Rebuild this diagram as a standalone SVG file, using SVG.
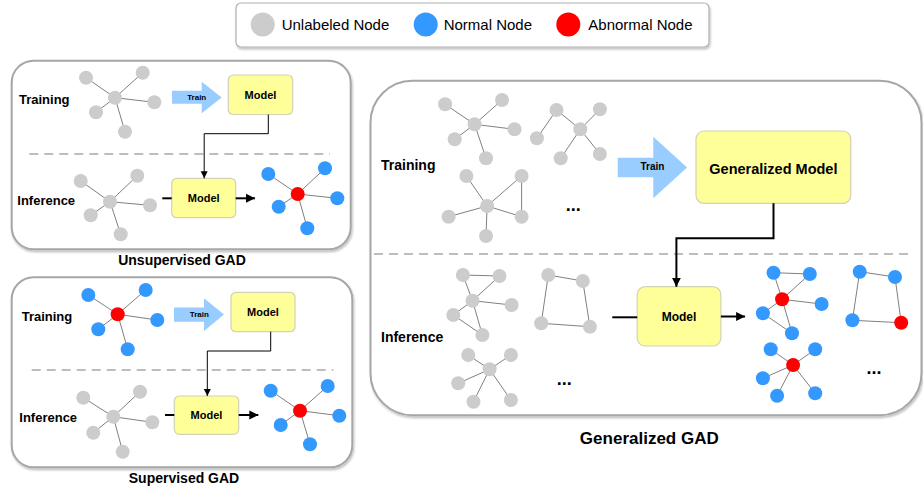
<svg xmlns="http://www.w3.org/2000/svg" width="923" height="489" viewBox="0 0 923 489">
<style>
text{font-family:"Liberation Sans",Arial,Helvetica,sans-serif;fill:#000}
.b{font-weight:bold}
.panel{fill:#fff;stroke:#a6a6a6;stroke-width:2}
.model{fill:#ffff99;stroke:#d2d2b4;stroke-width:1.2}
.g{fill:#cccccc}
.n{fill:#3399ff}
.a{fill:#ff0000}
.e{stroke:#808080;stroke-width:1;fill:none}
.dash{stroke:#a8a8a8;stroke-width:1.5;stroke-dasharray:9 6;fill:none}
.train{fill:#99ccff}
.c1{stroke:#000;stroke-width:1;fill:none}
.c2{stroke:#000;stroke-width:2;fill:none}
.dots{font-size:18px;font-weight:bold}
</style>
<defs>
<filter id="sh" x="-5%" y="-5%" width="110%" height="115%">
<feDropShadow dx="1" dy="2" stdDeviation="1.2" flood-color="#000" flood-opacity="0.25"/>
</filter>
<marker id="m1" markerUnits="userSpaceOnUse" markerWidth="8" markerHeight="8" refX="7" refY="4" orient="auto">
<path d="M0,0.5 L7,4 L0,7.5 Z" fill="#000"/>
</marker>
<marker id="m2" markerUnits="userSpaceOnUse" markerWidth="10" markerHeight="10" refX="9" refY="5" orient="auto">
<path d="M0,0.5 L9,5 L0,9.5 Z" fill="#000"/>
</marker>
</defs>

<g id="legend">
<rect x="236" y="3" width="473" height="44" rx="5" fill="#fff" stroke="#b0b0b0" stroke-width="1.2" filter="url(#sh)"/>
<circle cx="262.7" cy="24.5" r="12" class="g"/>
<text x="281.7" y="30" font-size="15" fill="#1a1a1a">Unlabeled Node</text>
<circle cx="425.7" cy="24.5" r="12" class="n"/>
<text x="443.7" y="30" font-size="15" fill="#1a1a1a">Normal Node</text>
<circle cx="568.3" cy="24.5" r="12" class="a"/>
<text x="588.3" y="30" font-size="15" fill="#1a1a1a">Abnormal Node</text>
</g>

<!-- Unsupervised panel -->
<g id="panel-unsupervised">
<rect x="11.7" y="60.7" width="339" height="188.6" rx="22" class="panel" filter="url(#sh)"/>
<line x1="29.3" y1="154" x2="330" y2="154" class="dash"/>
<text x="19" y="104.3" font-size="13" class="b">Training</text>
<text x="17.3" y="205" font-size="13" class="b">Inference</text>
</g>
<g id="u-train-graph">
<path class="e" d="M115,97.7 L86,77.7 M115,97.7 L142.7,72.7 M115,97.7 L154.3,102.3 M115,97.7 L96,112.3 M115,97.7 L125,131.7"/>
<circle cx="86" cy="77.7" r="7" class="g"/><circle cx="142.7" cy="72.7" r="7" class="g"/><circle cx="154.3" cy="102.3" r="7" class="g"/><circle cx="96" cy="112.3" r="7" class="g"/><circle cx="125" cy="131.7" r="7" class="g"/><circle cx="115" cy="97.7" r="7" class="g"/>
</g>
<g id="u-train-arrow">
<polygon class="train" points="172,90.7 201.7,90.7 201.7,81.7 221.7,97.5 201.7,113.3 201.7,103.7 172,103.7"/>
<text x="196.7" y="100.2" font-size="8" class="b" text-anchor="middle" fill="#222">Train</text>
</g>
<g id="u-model-train">
<rect x="228.3" y="75" width="64.4" height="39.5" rx="5" class="model"/>
<text x="260.5" y="98.5" font-size="11" class="b" text-anchor="middle">Model</text>
</g>
<g id="u-infer-graph">
<path class="e" d="M110,201.7 L80.7,181 M110,201.7 L137.3,175.7 M110,201.7 L150,205.3 M110,201.7 L90.7,215.3 M110,201.7 L120.7,234.3"/>
<circle cx="80.7" cy="181" r="7" class="g"/><circle cx="137.3" cy="175.7" r="7" class="g"/><circle cx="150" cy="205.3" r="7" class="g"/><circle cx="90.7" cy="215.3" r="7" class="g"/><circle cx="120.7" cy="234.3" r="7" class="g"/><circle cx="110" cy="201.7" r="7" class="g"/>
</g>
<g id="u-model-infer">
<rect x="171.7" y="178.3" width="64" height="39.4" rx="5" class="model"/>
<text x="203.7" y="202" font-size="11" class="b" text-anchor="middle">Model</text>
</g>
<g id="u-out-graph">
<path class="e" d="M297.7,194 L268.3,174 M297.7,194 L325,168.3 M297.7,194 L337.3,198.3 M297.7,194 L278.7,206.7 M297.7,194 L307.3,228.3"/>
<circle cx="268.3" cy="174" r="7" class="n"/><circle cx="325" cy="168.3" r="7" class="n"/><circle cx="337.3" cy="198.3" r="7" class="n"/><circle cx="278.7" cy="206.7" r="7" class="n"/><circle cx="307.3" cy="228.3" r="7" class="n"/><circle cx="297.7" cy="194" r="7" class="a"/>
</g>
<text x="182" y="265" font-size="14" class="b" text-anchor="middle">Unsupervised GAD</text>

<!-- Supervised panel -->
<g id="panel-supervised">
<rect x="11.7" y="277.3" width="340.6" height="190" rx="22" class="panel" filter="url(#sh)"/>
<line x1="31.7" y1="370" x2="333.3" y2="370" class="dash"/>
<text x="21.7" y="321" font-size="13" class="b">Training</text>
<text x="19.3" y="421.7" font-size="13" class="b">Inference</text>
</g>
<g id="s-train-graph">
<path class="e" d="M117.7,314.3 L88.3,295 M117.7,314.3 L145.7,290 M117.7,314.3 L157.3,320 M117.7,314.3 L98.3,329.3 M117.7,314.3 L127.7,349.3"/>
<circle cx="88.3" cy="295" r="7" class="n"/><circle cx="145.7" cy="290" r="7" class="n"/><circle cx="157.3" cy="320" r="7" class="n"/><circle cx="98.3" cy="329.3" r="7" class="n"/><circle cx="127.7" cy="349.3" r="7" class="n"/><circle cx="117.7" cy="314.3" r="7" class="a"/>
</g>
<g id="s-train-arrow">
<polygon class="train" points="174,307.5 204,307.5 204,298.3 224,314.6 204,331 204,321.7 174,321.7"/>
<text x="199.3" y="317.3" font-size="8" class="b" text-anchor="middle" fill="#222">Train</text>
</g>
<g id="s-model-train">
<rect x="231" y="292.3" width="64" height="39.4" rx="5" class="model"/>
<text x="263" y="315.8" font-size="11" class="b" text-anchor="middle">Model</text>
</g>
<g id="s-infer-graph">
<path class="e" d="M113.3,416.7 L83.3,397.7 M113.3,416.7 L140,391.7 M113.3,416.7 L152.3,422.3 M113.3,416.7 L93.3,432.7 M113.3,416.7 L122.7,451.7"/>
<circle cx="83.3" cy="397.7" r="7" class="g"/><circle cx="140" cy="391.7" r="7" class="g"/><circle cx="152.3" cy="422.3" r="7" class="g"/><circle cx="93.3" cy="432.7" r="7" class="g"/><circle cx="122.7" cy="451.7" r="7" class="g"/><circle cx="113.3" cy="416.7" r="7" class="g"/>
</g>
<g id="s-model-infer">
<rect x="174.3" y="396" width="64.4" height="38.3" rx="5" class="model"/>
<text x="206.5" y="419" font-size="11" class="b" text-anchor="middle">Model</text>
</g>
<g id="s-out-graph">
<path class="e" d="M300,410.7 L270.7,390.7 M300,410.7 L327.7,386 M300,410.7 L339.3,415.7 M300,410.7 L280.7,425 M300,410.7 L310,444.3"/>
<circle cx="270.7" cy="390.7" r="7" class="n"/><circle cx="327.7" cy="386" r="7" class="n"/><circle cx="339.3" cy="415.7" r="7" class="n"/><circle cx="280.7" cy="425" r="7" class="n"/><circle cx="310" cy="444.3" r="7" class="n"/><circle cx="300" cy="410.7" r="7" class="a"/>
</g>
<text x="184" y="483" font-size="14" class="b" text-anchor="middle">Supervised GAD</text>

<!-- Generalized panel -->
<g id="panel-generalized">
<rect x="370.5" y="80.7" width="551" height="334.5" rx="42" class="panel" filter="url(#sh)"/>
<line x1="374" y1="254" x2="908" y2="254" class="dash"/>
<text x="381" y="170" font-size="14" class="b">Training</text>
<text x="381" y="341.7" font-size="14" class="b">Inference</text>
</g>
<g id="g-train-graph1">
<path class="e" d="M474.6,124.3 L445.1,104.3 M474.6,124.3 L502,100 M474.6,124.3 L514.5,129.3 M474.6,124.3 L454.7,139.3 M474.6,124.3 L486,158.3"/>
<circle cx="445.1" cy="104.3" r="7" class="g"/><circle cx="502" cy="100" r="7" class="g"/><circle cx="514.5" cy="129.3" r="7" class="g"/><circle cx="454.7" cy="139.3" r="7" class="g"/><circle cx="486" cy="158.3" r="7" class="g"/><circle cx="474.6" cy="124.3" r="7" class="g"/>
</g>
<g id="g-train-graph2">
<path class="e" d="M536.9,138.3 L556.5,110 L580.3,129.3 L599.9,109.3 M580.3,129.3 L560.7,158.3 M580.3,129.3 L599.9,154"/>
<circle cx="556.5" cy="110" r="7" class="g"/><circle cx="599.9" cy="109.3" r="7" class="g"/><circle cx="536.9" cy="138.3" r="7" class="g"/><circle cx="560.7" cy="158.3" r="7" class="g"/><circle cx="599.9" cy="154" r="7" class="g"/><circle cx="580.3" cy="129.3" r="7" class="g"/>
</g>
<g id="g-train-graph3">
<path class="e" d="M487.1,206 L466.4,176 M487.1,206 L521.6,176 L521.6,216.7 L487.1,206 M487.1,206 L448.6,216.7 M487.1,206 L486,236"/>
<circle cx="466.4" cy="176" r="7" class="g"/><circle cx="521.6" cy="176" r="7" class="g"/><circle cx="521.6" cy="216.7" r="7" class="g"/><circle cx="448.6" cy="216.7" r="7" class="g"/><circle cx="486" cy="236" r="7" class="g"/><circle cx="487.1" cy="206" r="7" class="g"/>
</g>
<text x="573.2" y="211" class="dots" text-anchor="middle">...</text>
<g id="g-train-arrow">
<polygon class="train" points="617.7,157.7 653.3,157.7 653.3,136.7 687.1,167.5 653.3,198.3 653.3,177.3 617.7,177.3"/>
<text x="652.5" y="170.3" font-size="10" class="b" text-anchor="middle" fill="#222">Train</text>
</g>
<g id="g-gen-model">
<rect x="696" y="131" width="154.8" height="72.3" rx="8" class="model"/>
<text x="773.4" y="173.5" font-size="14.5" class="b" text-anchor="middle">Generalized Model</text>
</g>
<g id="g-infer-graphA">
<path class="e" d="M462.9,275 L499.5,276 L472.5,300.7 L462.9,275 M472.5,300.7 L511.6,305 M472.5,300.7 L453.3,315 L482.4,335 L472.5,300.7"/>
<circle cx="462.9" cy="275" r="7" class="g"/><circle cx="499.5" cy="276" r="7" class="g"/><circle cx="511.6" cy="305" r="7" class="g"/><circle cx="453.3" cy="315" r="7" class="g"/><circle cx="482.4" cy="335" r="7" class="g"/><circle cx="472.5" cy="300.7" r="7" class="g"/>
</g>
<g id="g-infer-graphB">
<path class="e" d="M548.3,275 L582.8,281 L589.9,326.7 L541.2,323.3 Z"/>
<circle cx="548.3" cy="275" r="7" class="g"/><circle cx="582.8" cy="281" r="7" class="g"/><circle cx="541.2" cy="323.3" r="7" class="g"/><circle cx="589.9" cy="326.7" r="7" class="g"/>
</g>
<g id="g-infer-graphC">
<path class="e" d="M489.6,369.3 L468.2,355 M489.6,369.3 L510.9,355 M489.6,369.3 L458.2,383.3 M489.6,369.3 L473.5,401.7 M489.6,369.3 L510.9,400"/>
<circle cx="468.2" cy="355" r="7" class="g"/><circle cx="510.9" cy="355" r="7" class="g"/><circle cx="458.2" cy="383.3" r="7" class="g"/><circle cx="473.5" cy="401.7" r="7" class="g"/><circle cx="510.9" cy="400" r="7" class="g"/><circle cx="489.6" cy="369.3" r="7" class="g"/>
</g>
<text x="564.3" y="384.5" class="dots" text-anchor="middle">...</text>
<g id="g-model-infer">
<rect x="637.2" y="286.7" width="83.7" height="59.3" rx="8" class="model"/>
<text x="679" y="321" font-size="12" class="b" text-anchor="middle">Model</text>
</g>
<g id="g-out-graphA">
<path class="e" d="M773.5,272.7 L809.8,274 L782.1,299.3 L773.5,272.7 M782.1,299.3 L821.6,304 M782.1,299.3 L762.9,313.3 L792,333.3 L782.1,299.3"/>
<circle cx="773.5" cy="272.7" r="7" class="n"/><circle cx="809.8" cy="274" r="7" class="n"/><circle cx="821.6" cy="304" r="7" class="n"/><circle cx="762.9" cy="313.3" r="7" class="n"/><circle cx="792" cy="333.3" r="7" class="n"/><circle cx="782.1" cy="299.3" r="7" class="a"/>
</g>
<g id="g-out-graphB">
<path class="e" d="M859.7,271.7 L895,277 L901.2,322.7 L852.4,320.3 Z"/>
<circle cx="859.7" cy="271.7" r="7" class="n"/><circle cx="895" cy="277" r="7" class="n"/><circle cx="852.4" cy="320.3" r="7" class="n"/><circle cx="901.2" cy="322.7" r="7" class="a"/>
</g>
<g id="g-out-graphC">
<path class="e" d="M793.1,365 L770.7,349.3 M793.1,365 L815.2,349.3 M793.1,365 L762.9,378.3 M793.1,365 L777.1,395.7 M793.1,365 L815.2,393.3"/>
<circle cx="770.7" cy="349.3" r="7" class="n"/><circle cx="815.2" cy="349.3" r="7" class="n"/><circle cx="762.9" cy="378.3" r="7" class="n"/><circle cx="777.1" cy="395.7" r="7" class="n"/><circle cx="815.2" cy="393.3" r="7" class="n"/><circle cx="793.1" cy="365" r="7" class="a"/>
</g>
<text x="874" y="373.5" class="dots" text-anchor="middle">...</text>
<text x="649.3" y="444" font-size="17" class="b" text-anchor="middle">Generalized GAD</text>

<g id="connectors">
<path class="c1" d="M268.3,114.5 V133.7 H204.2 V178.3" marker-end="url(#m1)"/>
<line class="c2" x1="162.3" y1="198.3" x2="171.7" y2="198.3"/>
<line class="c2" x1="235.7" y1="198.3" x2="255" y2="198.3" marker-end="url(#m2)"/>
<path class="c1" d="M270.7,331.7 V351 H207.3 V396" marker-end="url(#m1)"/>
<line class="c2" x1="165" y1="415" x2="174.3" y2="415"/>
<line class="c2" x1="238.7" y1="415" x2="258.3" y2="415" marker-end="url(#m2)"/>
<path class="c2" d="M773.5,203.3 V238.3 H676.4 V286.7" marker-end="url(#m2)"/>
<line class="c2" x1="612.3" y1="317.3" x2="637.2" y2="317.3"/>
<line class="c2" x1="720.9" y1="316.5" x2="745.1" y2="316.5" marker-end="url(#m2)"/>
</g>
</svg>
